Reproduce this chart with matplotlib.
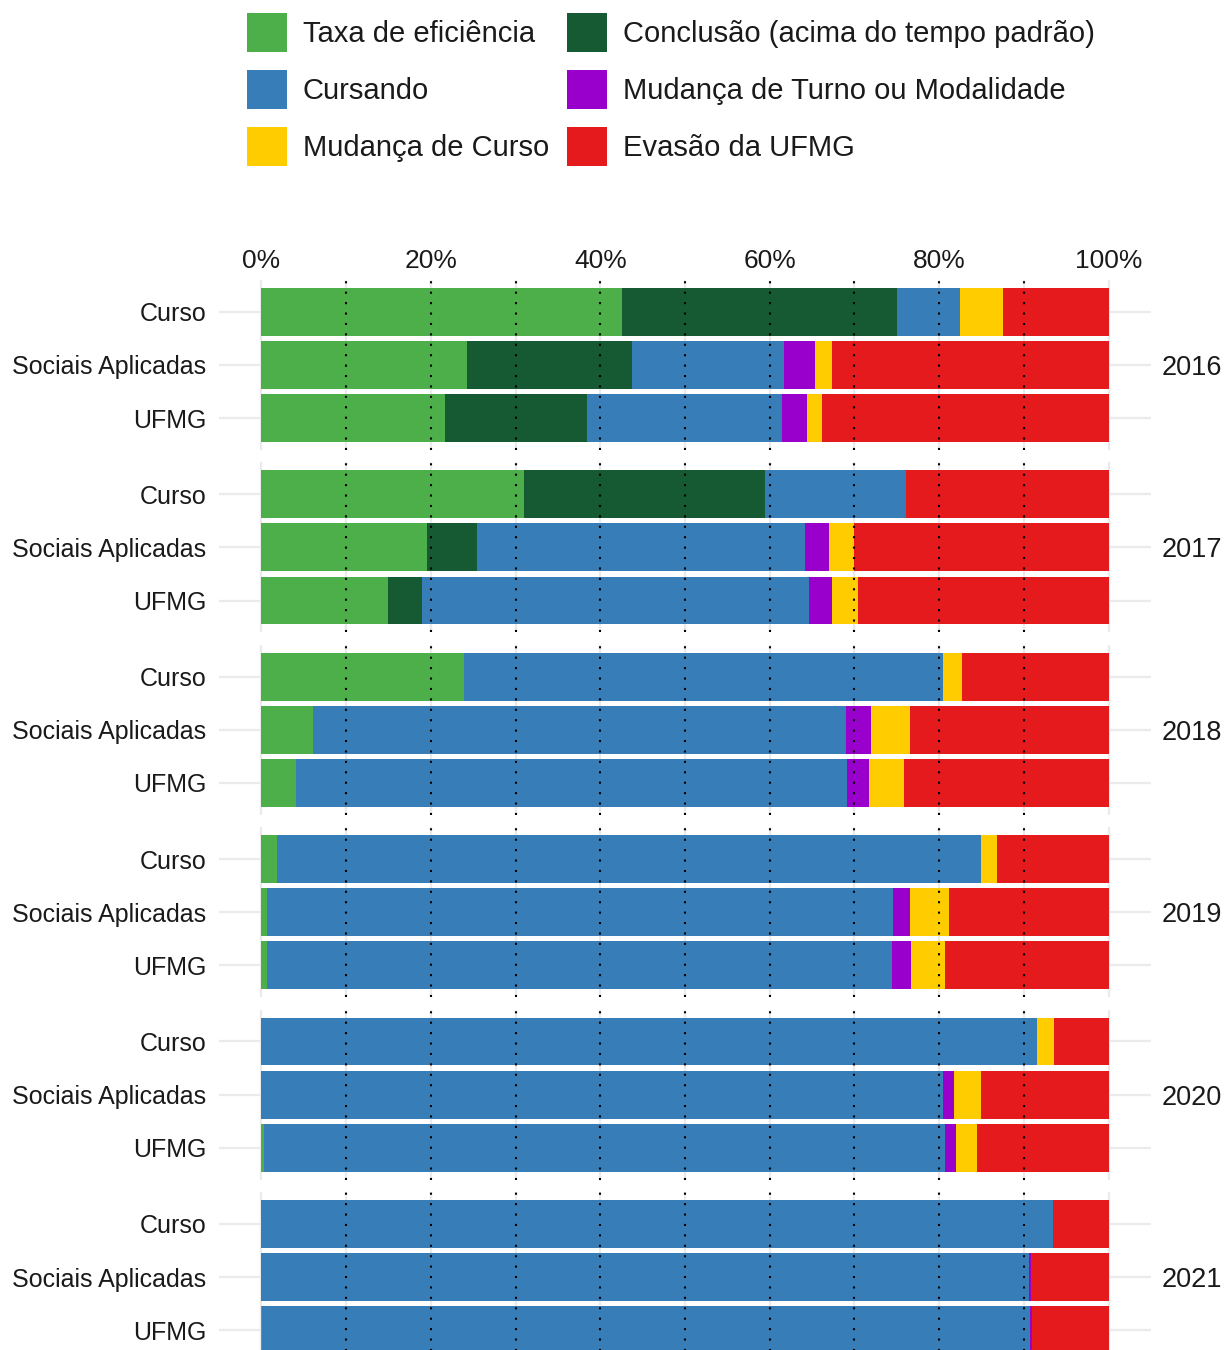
import matplotlib
matplotlib.use("Agg")
import matplotlib.pyplot as plt
import numpy as np

plt.rcParams['font.family'] = ['Liberation Sans', 'DejaVu Sans']

years = [2016, 2017, 2018, 2019, 2020, 2021]
categories = ["Curso", "Sociais Aplicadas", "UFMG"]

# percentages per year, one row per year: [Curso, Sociais Aplicadas, UFMG]
taxa_eficiencia = [
    [42.6, 24.3, 21.7],
    [31.0, 19.6, 15.0],
    [23.9, 6.1, 4.1],
    [1.9, 0.7, 0.7],
    [0.0, 0.0, 0.3],
    [0.0, 0.0, 0.1],
]
conclusao_acima = [
    [32.4, 19.5, 16.7],
    [28.5, 5.8, 4.0],
    [0.0, 0.0, 0.0],
    [0.0, 0.0, 0.0],
    [0.0, 0.0, 0.0],
    [0.0, 0.0, 0.0],
]
cursando = [
    [7.5, 17.9, 23.1],
    [16.6, 38.8, 45.6],
    [56.5, 62.9, 65.0],
    [83.0, 73.8, 73.7],
    [91.5, 80.5, 80.4],
    [93.4, 90.6, 90.6],
]
mudanca_turno = [
    [0.0, 3.7, 2.9],
    [0.0, 2.8, 2.8],
    [0.0, 2.9, 2.6],
    [0.0, 2.1, 2.25],
    [0.0, 1.2, 1.3],
    [0.0, 0.2, 0.3],
]
mudanca_curso = [
    [5.0, 2.0, 1.8],
    [0.0, 2.9, 3.0],
    [2.25, 4.7, 4.1],
    [1.9, 4.6, 4.0],
    [2.1, 3.2, 2.5],
    [0.0, 0.0, 0.0],
]
evasao = [
    [12.5, 32.6, 33.8],
    [23.9, 30.1, 29.6],
    [17.35, 23.4, 24.2],
    [13.2, 18.8, 19.35],
    [6.4, 15.1, 15.5],
    [6.6, 9.2, 9.0],
]

series = [
    ("Taxa de eficiência", taxa_eficiencia, "#4DAF4A"),
    ("Conclusão (acima do tempo padrão)", conclusao_acima, "#165A33"),
    ("Cursando", cursando, "#377EB8"),
    ("Mudança de Turno ou Modalidade", mudanca_turno, "#9900CC"),
    ("Mudança de Curso", mudanca_curso, "#FFCC00"),
    ("Evasão da UFMG", evasao, "#E41A1C"),
]

W, H = 1226, 1350
txt = "#1A1A1A"
grid = "#EBEBEB"

fig = plt.figure(figsize=(W / 100, H / 100), dpi=100)

ypos = np.arange(1, len(categories) + 1)
handles = {}
for i, yr in enumerate(years):
    top = 280 + 182.4 * i
    ax = fig.add_axes([219 / W, 1 - (top + 170) / H, 932 / W, 170 / H])
    left = np.zeros(len(categories))
    for name, vals, col in series:
        v = np.array(vals[i], dtype=float)
        b = ax.barh(ypos, v, left=left, height=0.9, color=col, lw=0, zorder=2)
        handles[name] = b
        left += v
    for x in range(10, 100, 10):
        ax.axvline(x, color="black", lw=1.5, ls=(0, (1, 4)),
                   dash_capstyle="butt", zorder=3)
    ax.set_xlim(-5, 105)
    ax.set_ylim(3.6, 0.4)
    ax.set_xticks(range(0, 101, 20))
    ax.set_xticks(range(10, 100, 20), minor=True)
    ax.set_yticks(ypos)
    ax.set_yticklabels(categories)
    ax.grid(which="major", color=grid, lw=1.6, zorder=0)
    ax.grid(which="minor", axis="x", color=grid, lw=1.6, zorder=0)
    ax.set_axisbelow(True)
    for s in ax.spines.values():
        s.set_visible(False)
    ax.tick_params(which="both", length=0, labelsize=18, colors=txt)
    ax.tick_params(axis="y", pad=9)
    if i == 0:
        ax.xaxis.tick_top()
        ax.set_xticklabels([f"{v}%" for v in range(0, 101, 20)])
        ax.tick_params(axis="x", pad=5, labelsize=19)
    else:
        ax.tick_params(axis="x", labelbottom=False)
    ax.text(1.011, 0.5, str(yr), transform=ax.transAxes, ha="left",
            va="center_baseline", fontsize=19.5, color=txt)

# legend laid out in two columns, filled by row
order = ["Taxa de eficiência", "Cursando", "Mudança de Curso",
         "Conclusão (acima do tempo padrão)", "Mudança de Turno ou Modalidade",
         "Evasão da UFMG"]
fig.legend([handles[n] for n in order], order, ncol=2, frameon=False,
           loc="upper left", bbox_to_anchor=(247 / W, 1 - 13 / H),
           fontsize=21, handlelength=1.37, handleheight=1.66,
           handletextpad=0.55, labelspacing=0.63, columnspacing=0.6,
           borderpad=0, borderaxespad=0, labelcolor=txt)

fig.savefig("out.png", dpi=100)
